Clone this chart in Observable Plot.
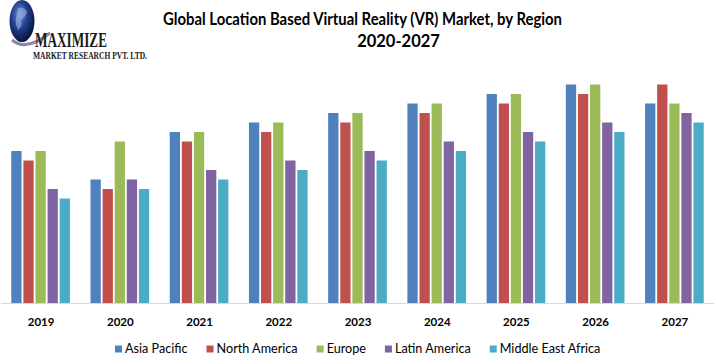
<!DOCTYPE html>
<html><head><meta charset="utf-8">
<script src="https://cdn.jsdelivr.net/npm/d3@7"></script>
<script src="https://cdn.jsdelivr.net/npm/@observablehq/plot@0.6"></script>
<style>
body{margin:0;background:#fff;}
#wrap{position:relative;width:716px;height:364px;overflow:hidden;font-family:Lato,sans-serif;}
#chart,#overlay{position:absolute;left:0;top:0;}
</style></head>
<body><div id="wrap"><div id="chart"></div><svg id="overlay" width="716" height="364"></svg></div>
<script>
const titleLine1 = "Global Location Based Virtual Reality (VR) Market, by Region";
const titleLine2 = "2020-2027";
const years = ["2019","2020","2021","2022","2023","2024","2025","2026","2027"];
const regions = ["Asia Pacific","North America","Europe","Latin America","Middle East Africa"];
const regionColors = ["#4F81BD","#C0504D","#9BBB59","#8064A2","#4BACC6"];
const asiaPacific      = [16,13,18,19,20,21,22,23,21];
const northAmerica     = [15,12,17,18,19,20,21,22,23];
const europe           = [16,17,18,19,20,21,22,23,21];
const latinAmerica     = [12,13,14,15,16,17,18,19,20];
const middleEastAfrica = [11,12,13,14,15,16,17,18,19];

const series = [asiaPacific, northAmerica, europe, latinAmerica, middleEastAfrica];
const data = regions.flatMap((r, i) => years.map((y, j) => ({year: y, region: r, value: series[i][j]})));

const chart = Plot.plot({
  width: 716, height: 364,
  marginTop: 65.5, marginBottom: 61, marginLeft: 1, marginRight: 2,
  style: {fontFamily: "Lato, sans-serif", color: "#000", background: "#fff"},
  fx: {domain: years, padding: 0, round: false, label: null},
  x: {domain: regions, paddingInner: 0.15, paddingOuter: 0.85, round: false, axis: null},
  y: {domain: [0, 25], axis: null},
  color: {domain: regions, range: regionColors},
  marks: [
    Plot.ruleY([0], {stroke: "#d9d9d9", strokeWidth: 1}),
    Plot.barY(data, {fx: "year", x: "region", y: "value", fill: "region"}),
    Plot.axisFx({anchor: "bottom", tickSize: 0, tickPadding: 14, fontSize: 11.5, fontWeight: "bold", label: null})
  ]
});
document.getElementById("chart").append(chart);

const svg = d3.select("#overlay");
// Logo
const defs = svg.append("defs");
const g = defs.append("radialGradient").attr("id","globe").attr("cx","40%").attr("cy","35%").attr("r","70%");
g.append("stop").attr("offset","0%").attr("stop-color","#6d8fd6");
g.append("stop").attr("offset","45%").attr("stop-color","#24408f");
g.append("stop").attr("offset","100%").attr("stop-color","#070d33");
svg.append("path").attr("d","M12,40 Q26,52 50,33").attr("fill","none").attr("stroke","#8f86a8").attr("stroke-width",3);
svg.append("ellipse").attr("cx",22).attr("cy",21).attr("rx",12.5).attr("ry",21).attr("fill","url(#globe)");
svg.append("path").attr("d","M18,8 q6,-2 9,4 q-2,6 -6,8 q2,6 -3,10 q-3,-6 -2,-12 z").attr("fill","#9fb6e6").attr("opacity",0.6);
svg.append("text").attr("x",35).attr("y",47).attr("font-family","Liberation Serif, serif").attr("font-weight",700)
  .attr("font-size",20).attr("textLength",72).attr("lengthAdjust","spacingAndGlyphs").attr("fill","#1a1a1a").text("MAXIMIZE");
svg.append("text").attr("x",33).attr("y",59).attr("font-family","Liberation Serif, serif").attr("font-weight",700)
  .attr("font-size",9.5).attr("textLength",114).attr("lengthAdjust","spacingAndGlyphs").attr("fill","#1a1a1a").text("MARKET RESEARCH PVT. LTD.");

// Title
svg.append("text").attr("x",163).attr("y",25).attr("font-family","Lato, sans-serif").attr("font-weight",700)
  .attr("font-size",16.5).attr("textLength",399).attr("lengthAdjust","spacingAndGlyphs").attr("fill","#000").text(titleLine1);
svg.append("text").attr("x",398.5).attr("y",47).attr("text-anchor","middle").attr("font-family","Lato, sans-serif").attr("font-weight",700)
  .attr("font-size",16.5).attr("fill","#000").text(titleLine2);

// Legend
const color = chart.scale("color");
const lg = svg.append("g");
const items = regions.map(r => {
  const it = lg.append("g");
  const rect = it.append("rect").attr("width",7).attr("height",7).attr("y",345.5).attr("fill", color.apply(r));
  const txt = it.append("text").attr("y",353).attr("font-family","Lato, sans-serif").attr("font-size",13).attr("fill","#000").text(r);
  return {rect, txt};
});
const total0 = d3.sum(items, d => d.txt.node().getComputedTextLength());
const fs = 13 * 360 / total0;
let cx = 115;
items.forEach(d => {
  d.txt.attr("font-size", fs);
  d.rect.attr("x", cx);
  d.txt.attr("x", cx + 10);
  cx += 10 + d.txt.node().getComputedTextLength() + 19;
});
</script>
</body></html>
